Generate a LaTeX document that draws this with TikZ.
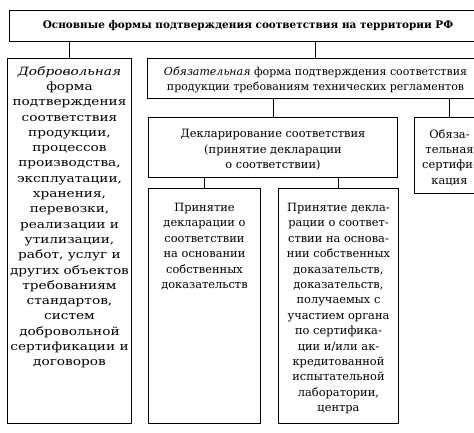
\documentclass[tikz,border=0pt]{standalone}
\usepackage{fontspec}
\setmainfont{DejaVu Serif}
\newfontfamily\widefont[FakeStretch=1.2]{DejaVu Serif}
\begin{document}
\begin{tikzpicture}[x=1pt,y=-1pt,
  box/.style={draw,line width=1pt,rectangle,inner sep=0pt,anchor=north west},
  txt/.style={align=center,inner sep=0pt,font=\fontsize{11.4}{15.4}\selectfont},
  link/.style={line width=1pt}]
\useasboundingbox (0,0) rectangle (474,433);
\clip (0,0) rectangle (474,433);
\node[box,minimum width=477,minimum height=31,font=\fontsize{10.45}{12}\selectfont\bfseries] (title) at (9,10)
  {Основные формы подтверждения соответствия на территории РФ};
\node[box,minimum width=124,minimum height=365] (vol) at (7,58) {};
\node[txt,anchor=north,font=\widefont\fontsize{11.4}{15.3}\selectfont] (voltext) at ([yshift=-8pt]vol.north) {\textit{Добровольная}\\форма\\подтверждения\\соответствия\\продукции,\\процессов\\производства,\\эксплуатации,\\хранения,\\перевозки,\\реализации и\\утилизации,\\работ, услуг и\\других объектов\\требованиям\\стандартов,\\систем\\добровольной\\сертификации и\\договоров};
\node[box,minimum width=336,minimum height=40] (mand) at (147,58) {};
\node[txt,font=\fontsize{11}{15.6}\selectfont] (mandtext) at ([yshift=-1.5pt]mand.center)
  {\textit{Обязательная} форма подтверждения соответствия\\продукции требованиям технических регламентов};
\node[box,minimum width=249,minimum height=60] (decl) at (148,117) {};
\node[txt] (decltext) at ([yshift=-2.5pt]decl.center)
  {Декларирование соответствия\\(принятие декларации\\о соответствии)};
\node[box,minimum width=70,minimum height=76] (cert) at (414,117) {};
\node[txt] (certtext) at ([yshift=-2pt]cert.center)
  {Обяза-\\тельная\\сертифи-\\кация};
\node[box,minimum width=112,minimum height=235] (a) at (148,188) {};
\node[txt,anchor=north] (atext) at ([yshift=-15pt]a.north) {Принятие\\декларации о\\соответствии\\на основании\\собственных\\доказательств};
\node[box,minimum width=120,minimum height=235] (b) at (278,188) {};
\node[txt,anchor=north] (btext) at ([yshift=-15pt]b.north) {Принятие декла-\\рации о соответ-\\ствии на основа-\\нии собственных\\доказательств,\\доказательств,\\получаемых с\\участием органа\\по сертифика-\\ции и/или ак-\\кредитованной\\испытательной\\лаборатории,\\центра};
\draw[link] (title.south -| vol.north) -- (vol.north);
\draw[link] (title.south -| mand.north) -- (mand.north);
\draw[link] (mand.south -| decl.north) -- (decl.north);
\draw[link] (mand.south -| cert.north) -- (cert.north);
\draw[link] (decl.south -| a.north) -- (a.north);
\draw[link] (decl.south -| b.north) -- (b.north);
\end{tikzpicture}
\end{document}
